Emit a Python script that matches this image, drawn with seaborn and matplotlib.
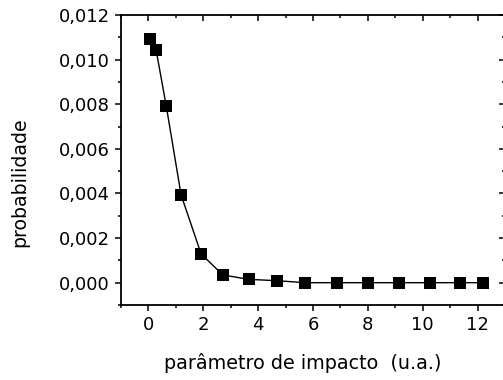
import numpy as np
import pandas as pd
import seaborn as sns
import matplotlib.pyplot as plt
from matplotlib.ticker import MultipleLocator, FuncFormatter

# parâmetro de impacto (u.a.) e probabilidade
impacto = [0.05, 0.28, 0.65, 1.19, 1.92, 2.71, 3.65, 4.67, 5.72, 6.88, 8.0, 9.13, 10.25, 11.37, 12.2]
probabilidade = [0.01091, 0.01043, 0.00792, 0.00394, 0.00129, 0.00035, 0.00015, 0.00009,
                 0.0, 0.0, 0.0, 0.0, 0.0, 0.0, 0.0]

df = pd.DataFrame({'impacto': impacto, 'prob': probabilidade})

sns.set_style("ticks")
plt.rcParams['font.family'] = ['DejaVu Sans']
plt.rcParams['text.color'] = 'black'
plt.rcParams['axes.labelcolor'] = 'black'
plt.rcParams['xtick.color'] = 'black'
plt.rcParams['ytick.color'] = 'black'

fig = plt.figure(figsize=(5.03, 3.8), dpi=100)
ax = fig.add_axes([121 / 503, 75 / 380, 384 / 503, 290 / 380])

sns.lineplot(data=df, x='impacto', y='prob', color='black', lw=1.0, ax=ax)
sns.scatterplot(data=df, x='impacto', y='prob', marker='s', s=65, color='black',
                edgecolor='black', linewidth=0, ax=ax, zorder=3)

ax.set_xlim(-1, 13)
ax.set_ylim(-0.001, 0.012)
ax.xaxis.set_major_locator(MultipleLocator(2))
ax.xaxis.set_minor_locator(MultipleLocator(1))
ax.yaxis.set_major_locator(MultipleLocator(0.002))
ax.yaxis.set_minor_locator(MultipleLocator(0.001))
ax.yaxis.set_major_formatter(FuncFormatter(lambda v, p: f"{v:.3f}".replace('.', ',')))
ax.xaxis.set_major_formatter(FuncFormatter(lambda v, p: f"{v:.0f}"))

for s in ax.spines.values():
    s.set_visible(True)
    s.set_linewidth(1.3)
    s.set_color('black')

ax.tick_params(which='both', direction='out', width=1.1, color='black',
               top=True, right=True)
ax.tick_params(which='major', length=4, labelsize=13, pad=4)
ax.tick_params(which='minor', length=2.5)
for t in ax.xaxis.get_major_ticks() + ax.xaxis.get_minor_ticks():
    t.tick2line.set_marker(3)  # top ticks point inward
for t in ax.yaxis.get_major_ticks() + ax.yaxis.get_minor_ticks():
    t.tick2line.set_marker(0)  # right ticks point inward

ax.set_xlabel("parâmetro de impacto  (u.a.)", fontsize=13.8)
ax.set_ylabel("probabilidade", fontsize=13.6)
ax.yaxis.set_label_coords(-0.24, 0.424)
ax.xaxis.set_label_coords(0.474, -0.165)

fig.savefig("out.png", dpi=100)
